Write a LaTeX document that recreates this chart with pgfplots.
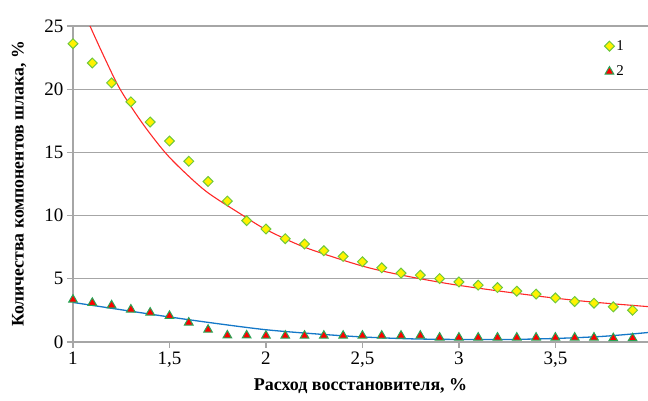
\documentclass[border=0pt]{standalone}
\usepackage{fontspec}
\setmainfont{Liberation Serif}
\usepackage{pgfplots}
\pgfplotsset{compat=1.18}

\definecolor{gridgray}{RGB}{166,166,166}
\definecolor{dmdedge}{RGB}{110,200,60}
\definecolor{triedge}{RGB}{40,165,85}
\definecolor{trendred}{RGB}{255,40,40}
\definecolor{trendblue}{RGB}{20,120,200}

\begin{document}
\begin{tikzpicture}
\path[use as bounding box] (-73pt,-59pt) rectangle (575pt,342pt);
\begin{axis}[
    scale only axis,
    width=575pt, height=316pt,
    xmin=1, xmax=3.98,
    ymin=0, ymax=25,
    axis x line*=bottom, axis y line*=left,
    axis line style={gridgray, line width=1.2pt, -},
    xtick={1,1.5,2,2.5,3,3.5},
    xticklabels={1,{1,5},2,{2,5},3,{3,5}},
    ytick={0,5,10,15,20,25},
    tick align=outside,
    major tick length=6pt,
    tick style={gridgray, line width=1.2pt},
    ymajorgrids,
    grid style={gridgray, line width=1.2pt},
    /pgf/number format/assume math mode=true,
    tick label style={font=\fontsize{19}{21}\selectfont},
    xlabel={Расход восстановителя, \%},
    ylabel={Количества компонентов шлака, \%},
    every axis x label/.style={at={(axis description cs:0.5,0)}, yshift=-44pt,
        anchor=center, font=\bfseries\fontsize{18}{20}\selectfont},
    every axis y label/.style={at={(axis description cs:0,0.5)}, xshift=-54pt,
        rotate=90, anchor=center, font=\bfseries\fontsize{17.7}{20}\selectfont},
    legend style={at={(axis cs:3.81,22.4)}, anchor=center, draw=none, fill=none,
        font=\fontsize{15}{18}\selectfont, row sep=10pt},
    legend cell align=left,
    clip=true,
]
% series 1: diamonds
\addplot[only marks, mark=square*, mark size=3.5pt,
    mark options={rotate=45, fill=yellow, draw=dmdedge, line width=1pt}]
coordinates {
(1.0,23.6) (1.1,22.07) (1.2,20.5) (1.3,19.0) (1.4,17.4) (1.5,15.9)
(1.6,14.3) (1.7,12.7) (1.8,11.15) (1.9,9.6) (2.0,8.94) (2.1,8.17)
(2.2,7.75) (2.3,7.22) (2.4,6.77) (2.5,6.35) (2.6,5.87) (2.7,5.45)
(2.8,5.29) (2.9,5.02) (3.0,4.75) (3.1,4.5) (3.2,4.31) (3.3,4.02)
(3.4,3.79) (3.5,3.49) (3.6,3.2) (3.7,3.07) (3.8,2.78) (3.9,2.51)
};
\addlegendentry{1}
% series 2: triangles
\addplot[only marks, mark=triangle*, mark size=5pt,
    mark options={fill=red, draw=triedge, line width=1pt}]
coordinates {
(1.0,3.35) (1.1,3.1) (1.2,2.9) (1.3,2.57) (1.4,2.33) (1.5,2.07)
(1.6,1.54) (1.7,0.97) (1.8,0.52) (1.9,0.52) (2.0,0.5) (2.1,0.5)
(2.2,0.5) (2.3,0.5) (2.4,0.5) (2.5,0.5) (2.6,0.5) (2.7,0.5)
(2.8,0.5) (2.9,0.35) (3.0,0.35) (3.1,0.35) (3.2,0.35) (3.3,0.35)
(3.4,0.35) (3.5,0.35) (3.6,0.35) (3.7,0.35) (3.8,0.3) (3.9,0.3)
};
\addlegendentry{2}
% trend lines
\addplot[trendred, line width=1.1pt, smooth, forget plot]
coordinates {
(1.088,25) (1.16,22.6) (1.244,20) (1.36,17.3) (1.477,15) (1.58,13.4)
(1.7,11.8) (1.882,10) (2.0,8.9) (2.2,7.5) (2.49,6.05) (2.7,5.3)
(2.95,4.6) (3.2,4.05) (3.47,3.52) (3.7,3.15) (3.98,2.8)
};
\addplot[trendblue, line width=1.3pt, smooth, forget plot]
coordinates {
(1.0,3.13) (1.25,2.55) (1.5,1.98) (1.75,1.45) (2.0,0.97) (2.25,0.65)
(2.5,0.4) (2.75,0.25) (3.0,0.2) (3.25,0.2) (3.5,0.28) (3.75,0.45)
(3.98,0.75)
};
\end{axis}
\end{tikzpicture}
\end{document}
